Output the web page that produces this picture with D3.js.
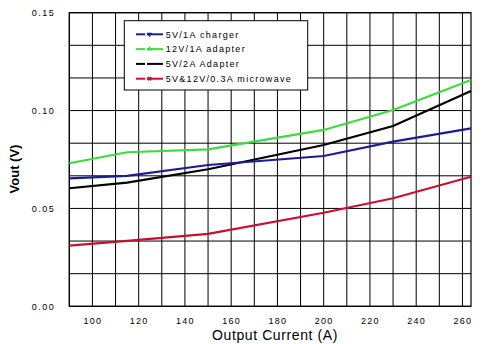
<!DOCTYPE html>
<html><head><meta charset="utf-8">
<script src="https://cdn.jsdelivr.net/npm/d3@7"></script>
<style>body{margin:0;background:#fff}svg{display:block}text{font-family:Arial,"Liberation Sans",sans-serif}</style>
</head><body>
<svg id="c" width="492" height="344"></svg>
<script>
const current = [90, 115, 150, 200, 230, 263.7];
const seriesNames = ["5V/1A charger", "12V/1A adapter", "5V/2A Adapter", "5V&12V/0.3A microwave"];
const charger5V1A = [0.0654, 0.0666, 0.0722, 0.0768, 0.0841, 0.0909];
const adapter12V1A = [0.0731, 0.0787, 0.0802, 0.0901, 0.1003, 0.1156];
const adapter5V2A = [0.0603, 0.0632, 0.0700, 0.0824, 0.0921, 0.1100];
const microwave = [0.0310, 0.0334, 0.0370, 0.0478, 0.0552, 0.0662];
const xTicks = [100, 120, 140, 160, 180, 200, 220, 240, 260];
const yTicks = [0.00, 0.05, 0.10, 0.15];
const colors = ["#1c1c96", "#3ddc3d", "#000000", "#c8102e"];
const markers = [d3.symbolTriangle, d3.symbolTriangle, null, d3.symbolCross];
const values = [charger5V1A, adapter12V1A, adapter5V2A, microwave];

const svg = d3.select("#c");
const L = 69.3, R = 471, T = 12.7, B = 306.3;
const x = d3.scaleLinear().domain([90, 263.7]).range([L, R]);
const y = d3.scaleLinear().domain([0, 0.15]).range([B, T]);

// grid
const g = svg.append("g");
d3.range(90, 261, 10).forEach(v => g.append("line").attr("x1", x(v)).attr("x2", x(v)).attr("y1", T).attr("y2", B).attr("stroke", "#000").attr("stroke-width", 1));
d3.range(0, 10).forEach(i => { const v = i * 0.05 / 3; g.append("line").attr("x1", L).attr("x2", R).attr("y1", y(v)).attr("y2", y(v)).attr("stroke", "#000").attr("stroke-width", 1); });
g.append("rect").attr("x", L).attr("y", T).attr("width", R - L).attr("height", B - T).attr("fill", "none").attr("stroke", "#000").attr("stroke-width", 1.2);

// axes
const xa = svg.append("g").attr("transform", `translate(0,${B})`).call(d3.axisBottom(x).tickValues(xTicks).tickSize(0).tickPadding(11).tickFormat(d3.format("d")));
xa.select(".domain").remove();
xa.selectAll("text").attr("font-size", 9).attr("letter-spacing", 1.3).attr("fill", "#000").attr("font-family", "Arial,'Liberation Sans',sans-serif");
const ya = svg.append("g").attr("transform", `translate(${L},0)`).call(d3.axisLeft(y).tickValues(yTicks).tickSize(0).tickPadding(14).tickFormat(d3.format(".2f")));
ya.select(".domain").remove();
ya.selectAll("text").attr("font-size", 9).attr("letter-spacing", 1.5).attr("fill", "#000").attr("font-family", "Arial,'Liberation Sans',sans-serif");

svg.append("text").attr("x", 275).attr("y", 339.5).attr("text-anchor", "middle").attr("font-size", 14).attr("letter-spacing", 0.6).text("Output Current (A)");
svg.append("text").attr("transform", "translate(19,169) rotate(-90)").attr("text-anchor", "middle").attr("font-size", 13).attr("font-weight", "bold").text("Vout (V)");

// lines
const line = d3.line().x((d, i) => x(current[i])).y(d => y(d));
const order = [3, 2, 0, 1];
order.forEach(k => svg.append("path").attr("d", line(values[k])).attr("fill", "none").attr("stroke", colors[k]).attr("stroke-width", 2.2));

// legend
const lg = svg.append("g");
lg.append("rect").attr("x", 124.3).attr("y", 20.7).attr("width", 183.4).attr("height", 69.3).attr("fill", "#fff").attr("stroke", "#000").attr("stroke-width", 1);
seriesNames.forEach((n, i) => {
  const yy = 34.3 + i * 14.8;
  lg.append("line").attr("x1", 136).attr("x2", 163).attr("y1", yy).attr("y2", yy).attr("stroke", colors[i]).attr("stroke-width", 2);
  if (markers[i]) {
    const s = d3.symbol().type(markers[i]).size(12)();
    lg.append("path").attr("d", s).attr("fill", colors[i]).attr("transform", `translate(149.5,${yy}) rotate(${i === 0 ? 180 : (i === 3 ? 45 : 0)})`);
  }
  lg.append("rect").attr("x", 145).attr("y", yy - 1).attr("width", 2).attr("height", 2).attr("fill", "#fff");
  lg.append("text").attr("x", 165.7).attr("y", yy + 3.3).attr("font-size", 9).attr("letter-spacing", 1.3).text(n);
});
</script>
</body></html>
